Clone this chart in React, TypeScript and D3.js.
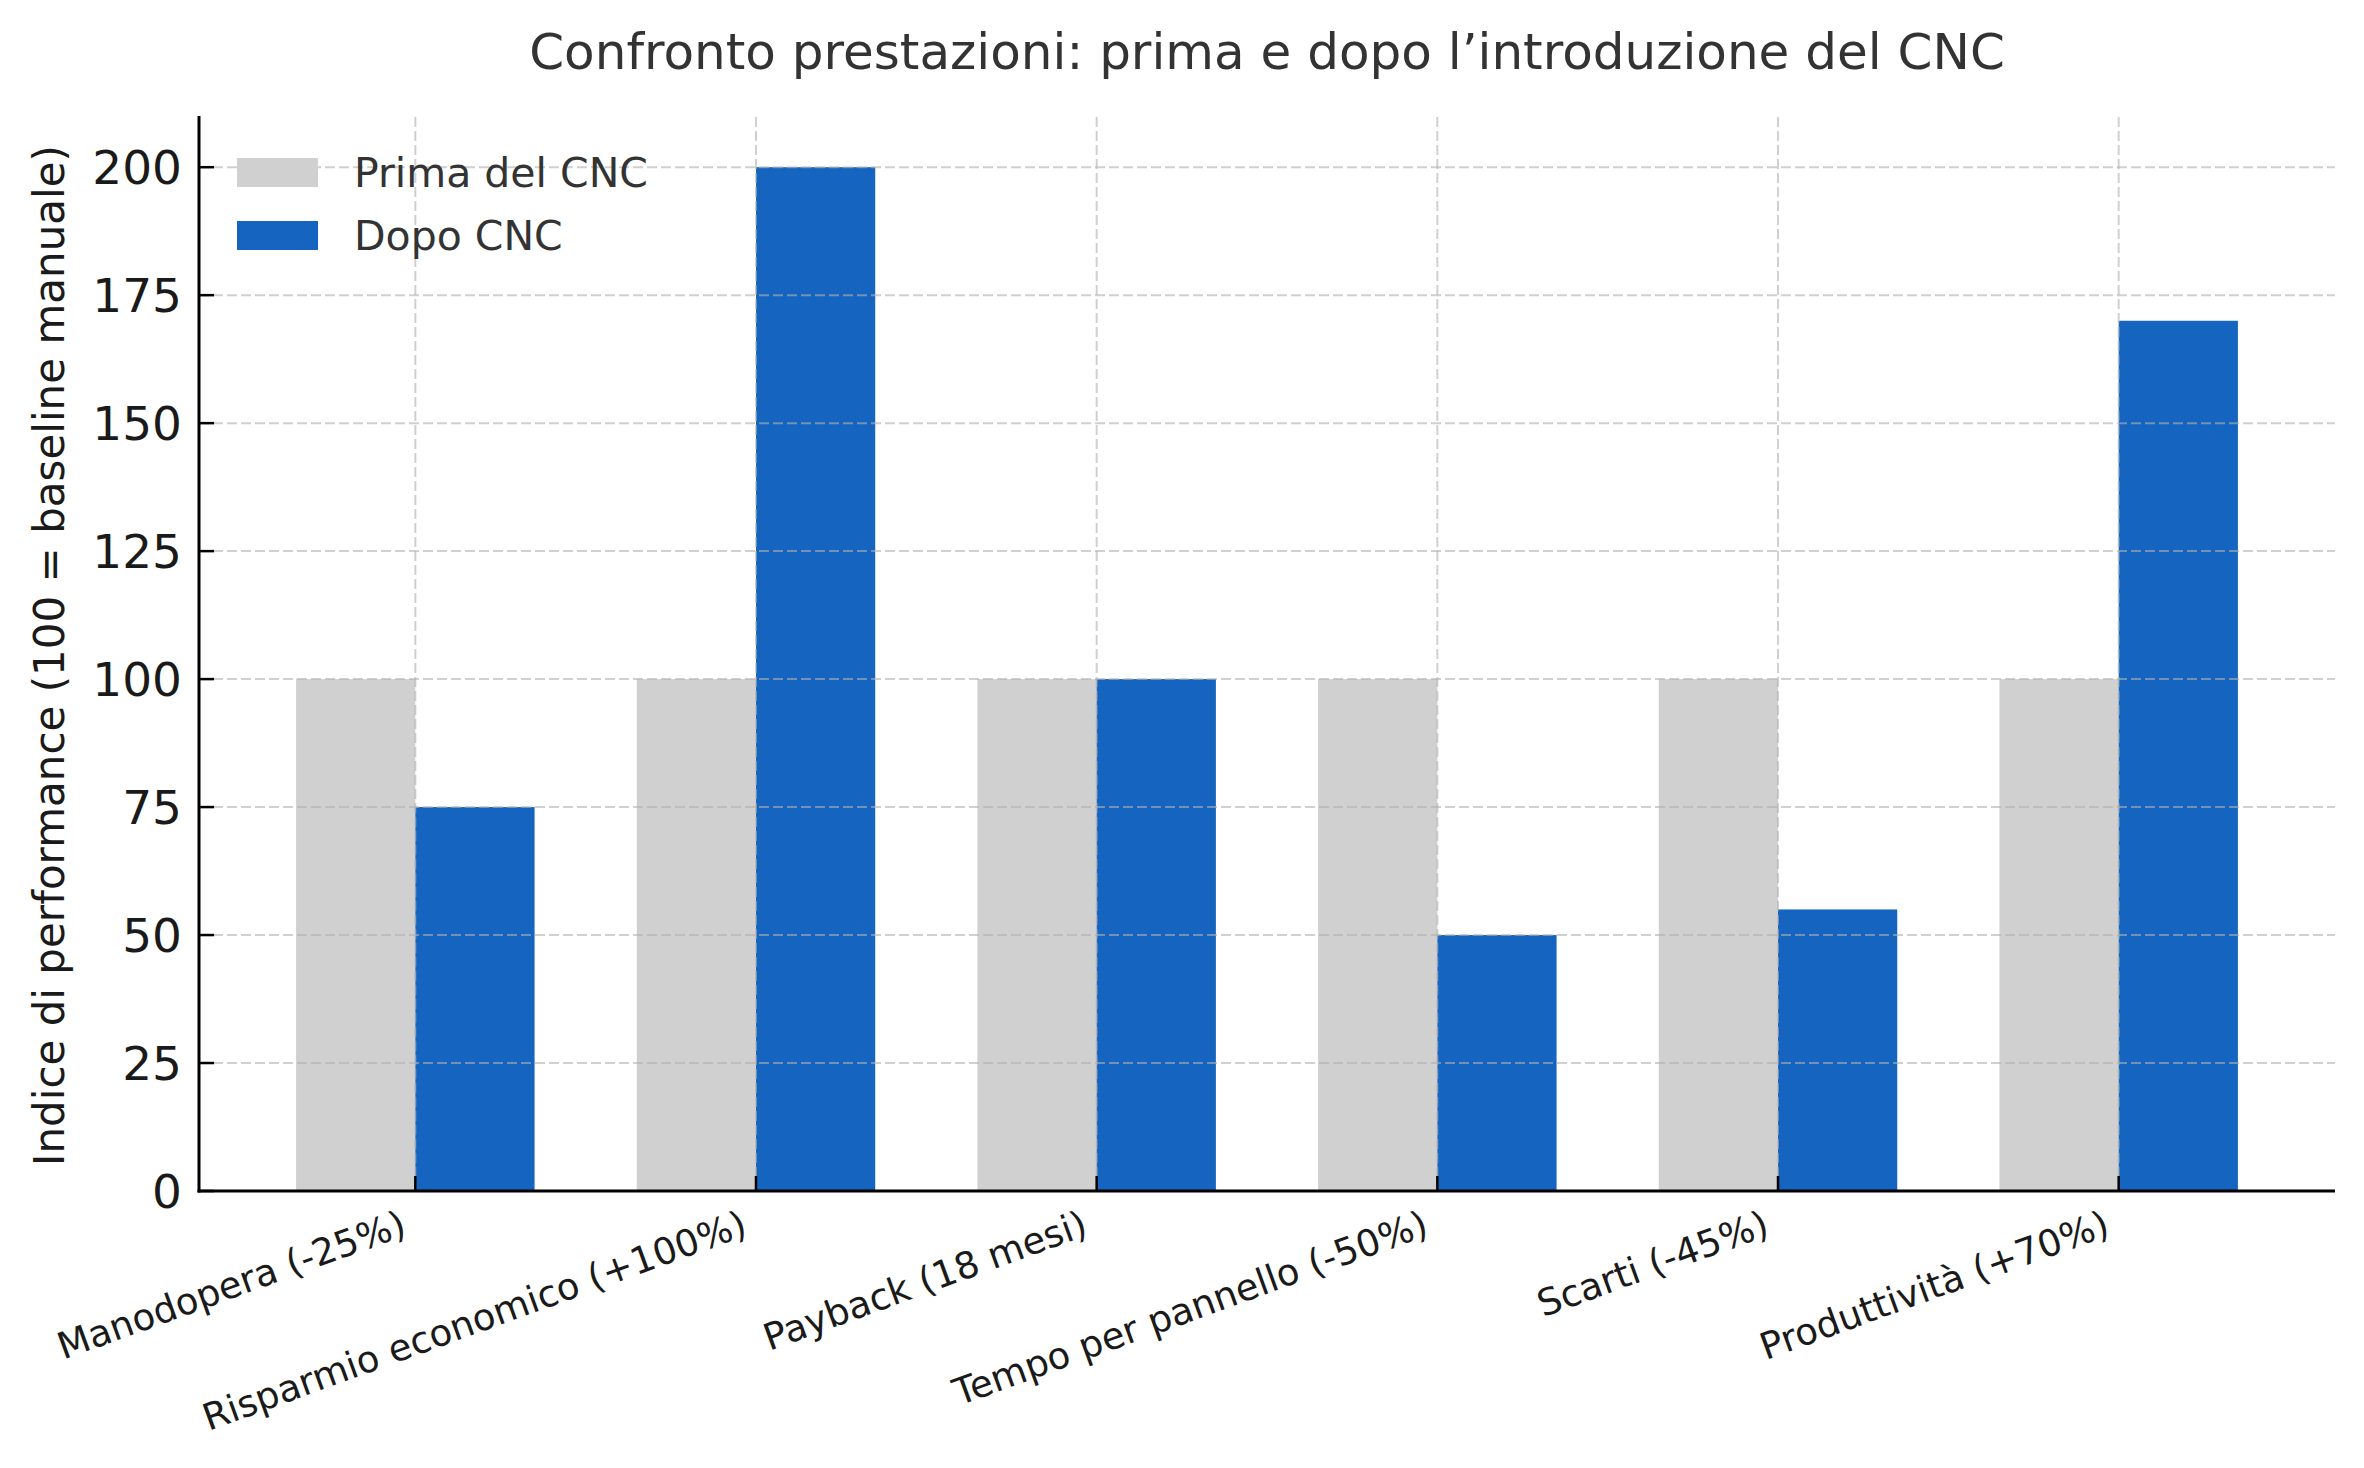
import * as d3 from "d3";

const categories = [
  "Manodopera (-25%)",
  "Risparmio economico (+100%)",
  "Payback (18 mesi)",
  "Tempo per pannello (-50%)",
  "Scarti (-45%)",
  "Produttività (+70%)",
];
const primaValues = [100, 100, 100, 100, 100, 100];
const dopoValues = [75, 200, 100, 50, 55, 170];
const yTicks = [0, 25, 50, 75, 100, 125, 150, 175, 200];
const seriesNames = ["Prima del CNC", "Dopo CNC"];

const W = 2364;
const H = 1468;
const margin = { top: 116, right: 29, bottom: 277, left: 199 };
const barW = 0.35;
const GRAY = "#d0d0d0";
const BLUE = "#1565c0";
const FONT = "DejaVu Sans, sans-serif";

export default function App() {
  const n = categories.length;
  const pad = 0.05 * (n - 1 + 2 * barW);
  const x = d3
    .scaleLinear()
    .domain([-barW - pad, n - 1 + barW + pad])
    .range([margin.left, W - margin.right]);
  const y = d3
    .scaleLinear()
    .domain([0, 210])
    .range([H - margin.bottom, margin.top]);

  const x0 = margin.left;
  const x1 = W - margin.right;
  const y0 = H - margin.bottom;
  const yTop = margin.top;
  const ang = 20;
  const rad = (ang * Math.PI) / 180;

  return (
    <svg
      width={W}
      height={H}
      style={{ position: "absolute", left: 0, top: 0, background: "#fff" }}
      fontFamily={FONT}
    >
      <rect x={0} y={0} width={W} height={H} fill="#fff" />

      <text x={(x0 + x1) / 2} y={69} textAnchor="middle" fontSize={50} fill="#333">
        Confronto prestazioni: prima e dopo l’introduzione del CNC
      </text>

      {/* bars */}
      {categories.map((c, i) => (
        <g key={c}>
          <rect
            x={x(i - barW)}
            y={y(primaValues[i])}
            width={x(i) - x(i - barW)}
            height={y(0) - y(primaValues[i])}
            fill={GRAY}
          />
          <rect
            x={x(i)}
            y={y(dopoValues[i])}
            width={x(i + barW) - x(i)}
            height={y(0) - y(dopoValues[i])}
            fill={BLUE}
          />
        </g>
      ))}

      {/* grid */}
      <g stroke="#b0b0b0" strokeOpacity={0.6} strokeWidth={2} strokeDasharray="10 4">
        {yTicks.map((t) => (
          <line key={"gy" + t} x1={x0} x2={x1} y1={y(t)} y2={y(t)} />
        ))}
        {categories.map((c, i) => (
          <line key={"gx" + c} x1={x(i)} x2={x(i)} y1={y0} y2={yTop} />
        ))}
      </g>

      {/* ticks (inward) */}
      <g stroke="#000" strokeWidth={2.5}>
        {yTicks.map((t) => (
          <line key={"ty" + t} x1={x0} x2={x0 + 15} y1={y(t)} y2={y(t)} />
        ))}
        {categories.map((c, i) => (
          <line key={"tx" + c} x1={x(i)} x2={x(i)} y1={y0} y2={y0 - 15} />
        ))}
      </g>

      {/* spines */}
      <line x1={x0} x2={x0} y1={yTop} y2={y0 + 1.5} stroke="#000" strokeWidth={3} />
      <line x1={x0 - 1.5} x2={x1} y1={y0} y2={y0} stroke="#000" strokeWidth={3} />

      {/* y tick labels */}
      {yTicks.map((t) => (
        <text
          key={"ly" + t}
          x={x0 - 17}
          y={y(t)}
          dy="0.36em"
          textAnchor="end"
          fontSize={47}
          fill="#1a1a1a"
        >
          {t}
        </text>
      ))}

      {/* x tick labels */}
      {categories.map((c, i) => {
        const fs = 37;
        const ax = x(i) - 0.236 * fs * Math.sin(rad) - 4;
        const ay = y0 + 11 + 0.928 * fs * Math.cos(rad);
        return (
          <text
            key={"lx" + c}
            transform={`translate(${ax},${ay}) rotate(${-ang})`}
            textAnchor="end"
            fontSize={fs}
            fill="#1a1a1a"
          >
            {c}
          </text>
        );
      })}

      {/* y axis label */}
      <text
        transform={`translate(64,${(yTop + y0) / 2 + 2}) rotate(-90)`}
        textAnchor="middle"
        fontSize={42}
        fill="#1a1a1a"
      >
        Indice di performance (100 = baseline manuale)
      </text>

      {/* legend */}
      {seriesNames.map((s, k) => (
        <g key={s} transform={`translate(237,${158 + k * 63})`}>
          <rect x={0} y={0} width={81} height={29} fill={k === 0 ? GRAY : BLUE} />
          <text x={117} y={14.5} dy="0.36em" fontSize={41} fill="#333">
            {s}
          </text>
        </g>
      ))}
    </svg>
  );
}
